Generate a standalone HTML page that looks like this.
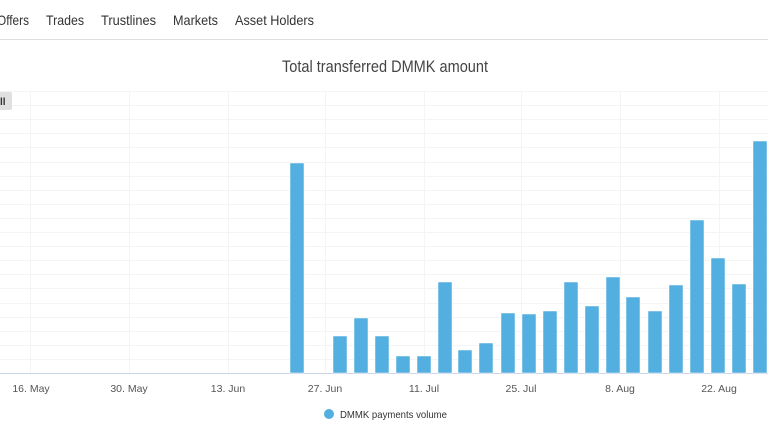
<!DOCTYPE html>
<html><head><meta charset="utf-8"><style>
body{margin:0;width:768px;height:432px;overflow:hidden;background:#fff;font-family:"Liberation Sans",sans-serif;}
</style></head><body>
<svg width="768" height="432" xmlns="http://www.w3.org/2000/svg" font-family="Liberation Sans, sans-serif">
<g font-size="14" fill="#333">
<text x="-3" y="25" textLength="32" lengthAdjust="spacingAndGlyphs">Offers</text><text x="46" y="25" textLength="38" lengthAdjust="spacingAndGlyphs">Trades</text><text x="101" y="25" textLength="55" lengthAdjust="spacingAndGlyphs">Trustlines</text><text x="173" y="25" textLength="45" lengthAdjust="spacingAndGlyphs">Markets</text><text x="235" y="25" textLength="79" lengthAdjust="spacingAndGlyphs">Asset Holders</text>
</g>
<line x1="0" y1="39.5" x2="768" y2="39.5" stroke="#ddd"/>
<text x="385" y="72" text-anchor="middle" font-size="17" fill="#444" textLength="206" lengthAdjust="spacingAndGlyphs">Total transferred DMMK amount</text>
<g stroke="#f4f4f4" stroke-width="1" id="grid"></g>
<g stroke="#f4f4f4">
<line x1="30.5" y1="91" x2="30.5" y2="373"/><line x1="129.5" y1="91" x2="129.5" y2="373"/><line x1="228.5" y1="91" x2="228.5" y2="373"/><line x1="325.5" y1="91" x2="325.5" y2="373"/><line x1="424.5" y1="91" x2="424.5" y2="373"/><line x1="521.5" y1="91" x2="521.5" y2="373"/><line x1="620.5" y1="91" x2="620.5" y2="373"/><line x1="719.5" y1="91" x2="719.5" y2="373"/>
</g>
<line x1="0" y1="373.5" x2="768" y2="373.5" stroke="#ccd6eb"/>
<rect x="-4" y="92" width="16" height="18" rx="2" fill="#e0e0e0"/>
<text x="0" y="105" font-size="10" font-weight="bold" fill="#333">ll</text>
<g fill="#52afdf" stroke="#fff" stroke-width="0.5">
<rect x="290" y="163" width="14" height="210"/>
<rect x="333" y="336" width="14" height="37"/>
<rect x="354" y="318" width="14" height="55"/>
<rect x="375" y="336" width="14" height="37"/>
<rect x="396" y="356" width="14" height="17"/>
<rect x="417" y="356" width="14" height="17"/>
<rect x="438" y="282" width="14" height="91"/>
<rect x="458" y="350" width="14" height="23"/>
<rect x="479" y="343" width="14" height="30"/>
<rect x="501" y="313" width="14" height="60"/>
<rect x="522" y="314" width="14" height="59"/>
<rect x="543" y="311" width="14" height="62"/>
<rect x="564" y="282" width="14" height="91"/>
<rect x="585" y="306" width="14" height="67"/>
<rect x="606" y="277" width="14" height="96"/>
<rect x="626" y="297" width="14" height="76"/>
<rect x="648" y="311" width="14" height="62"/>
<rect x="669" y="285" width="14" height="88"/>
<rect x="690" y="220" width="14" height="153"/>
<rect x="711" y="258" width="14" height="115"/>
<rect x="732" y="284" width="14" height="89"/>
<rect x="753" y="141" width="14" height="232"/>
</g>
<g font-size="10.5" fill="#555" text-anchor="middle">
<text x="31" y="392">16. May</text><text x="129" y="392">30. May</text><text x="228" y="392">13. Jun</text><text x="325" y="392">27. Jun</text><text x="424" y="392">11. Jul</text><text x="521" y="392">25. Jul</text><text x="620" y="392">8. Aug</text><text x="719" y="392">22. Aug</text>
</g>
<circle cx="329" cy="414" r="5" fill="#52afdf"/>
<text x="340" y="418" font-size="10.5" fill="#333" textLength="107" lengthAdjust="spacingAndGlyphs">DMMK payments volume</text>
<script>
var g=document.getElementById('grid');for(var i=0;i<20;i++){var y=Math.round(91+14.1*i)+0.5;var l=document.createElementNS('http://www.w3.org/2000/svg','line');l.setAttribute('x1',0);l.setAttribute('x2',768);l.setAttribute('y1',y);l.setAttribute('y2',y);g.appendChild(l);}
</script>
</svg>
</body></html>
